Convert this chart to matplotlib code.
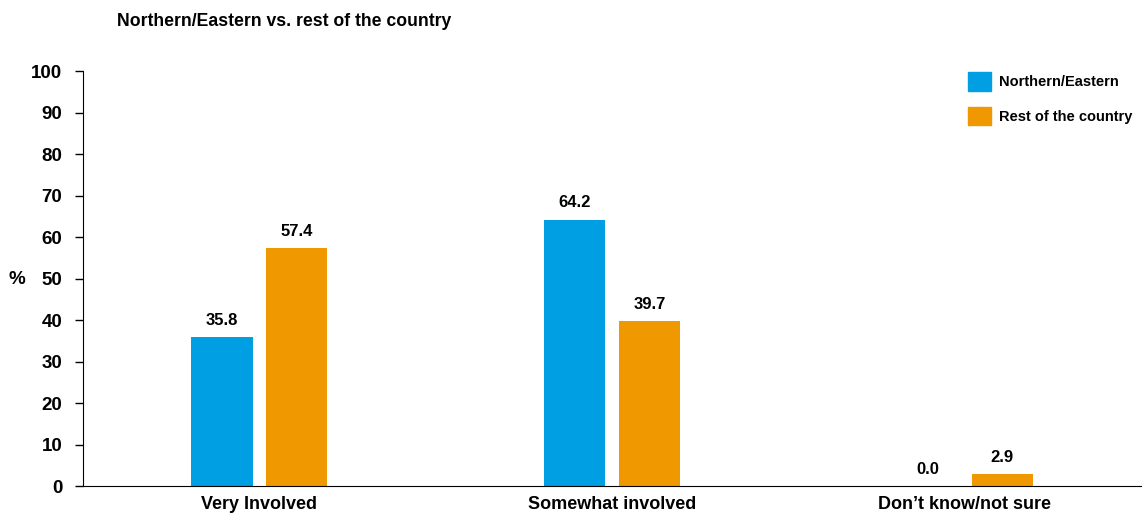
import numpy as np
import matplotlib.pyplot as plt
from matplotlib.patches import Patch

plt.rcParams['font.family'] = ['Liberation Sans', 'DejaVu Sans']
plt.rcParams['font.weight'] = 'bold'

categories = ['Very Involved', 'Somewhat involved', 'Don\u2019t know/not sure']
northern = [35.8, 64.2, 0.0]
rest = [57.4, 39.7, 2.9]
series_names = ['Northern/Eastern', 'Rest of the country']
colors = ['#009fe3', '#f09800']

fig = plt.figure(figsize=(11.43, 5.16), dpi=100)
ax = fig.add_axes([0.0726, 0.0581, 0.926, 0.8043])

x = np.arange(len(categories))
w = 0.173
off = 0.106
b1 = ax.bar(x - off, northern, w, color=colors[0])
b2 = ax.bar(x + off, rest, w, color=colors[1])

for bars, vals in [(b1, northern), (b2, rest)]:
    for b, v in zip(bars, vals):
        ax.text(b.get_x() + b.get_width() / 2, v + 2.2, f'{v:.1f}',
                ha='center', va='bottom', fontsize=12, fontweight='bold')

ax.set_xlim(-0.5, 2.5)
ax.set_ylim(0, 100)
ax.set_yticks(range(0, 101, 10))
ax.set_xticks(x)
ax.set_xticklabels(categories, fontsize=13, fontweight='bold')
ax.tick_params(axis='x', length=0, pad=7)
ax.tick_params(axis='y', length=6, width=1, labelsize=13.5, pad=9)
for lab in ax.get_yticklabels():
    lab.set_fontweight('bold')
ax.spines['top'].set_visible(False)
ax.spines['right'].set_visible(False)

fig.text(17 / 1143, 1 - 279 / 516, '%', fontsize=13.5, fontweight='bold', ha='center', va='center')
fig.text(117 / 1143, 1 - 22 / 516, 'Northern/Eastern vs. rest of the country',
         fontsize=12.7, fontweight='bold', ha='left', va='center')

handles = [Patch(color=c) for c in colors]
leg = fig.legend(handles, series_names, loc='upper left', bbox_to_anchor=(962 / 1143, 1 - 66 / 516),
                 frameon=False, fontsize=10.5, handlelength=1.6, handleheight=1.6,
                 labelspacing=1.1, handletextpad=0.55, borderaxespad=0)
for t in leg.get_texts():
    t.set_fontweight('bold')

fig.savefig('out.png', dpi=100)
